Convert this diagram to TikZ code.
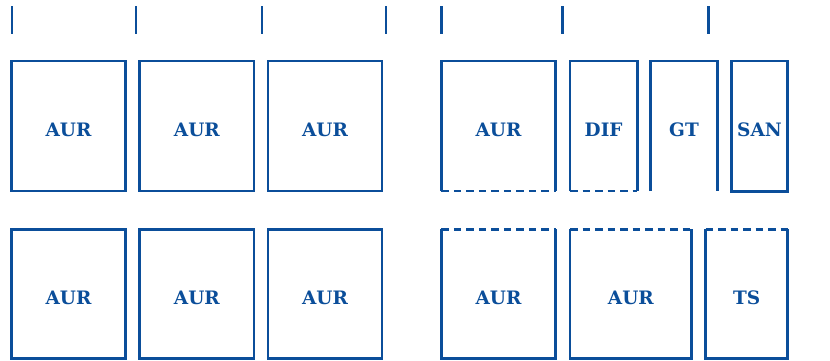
\documentclass[tikz,border=0pt]{standalone}
\usepackage{fontspec}
\setmainfont{DejaVu Serif}
\definecolor{myblue}{RGB}{11,78,154}
\tikzset{
  ln/.style={draw=myblue, line width=2.7pt},
  dsh/.style={ln, dash pattern=on 7.5pt off 5pt},
  boxnode/.style={rectangle, inner sep=0pt, outer sep=0pt, font=\bfseries\fontsize{18.5}{18.5}\selectfont, text=myblue, text height=21pt, text depth=0pt},
}
\begin{document}
\begin{tikzpicture}[x=1pt,y=-1pt]
\useasboundingbox (0,0) rectangle (830,360);
% ticks
\foreach \xx in {12,136,262,386,441.7,562.3,708.7}{
  \draw[ln] (\xx,6) -- (\xx,34);
}
% top row
\node[boxnode, ln, minimum width=114.4pt, minimum height=130pt] (t1) at (68.5,126) {AUR};
\node[boxnode, ln, minimum width=114.3pt, minimum height=130pt] (t2) at (196.85,126) {AUR};
\node[boxnode, ln, minimum width=114pt, minimum height=130pt] (t3) at (325,126) {AUR};
\node[boxnode, minimum width=114.4pt, minimum height=130pt] (t4) at (498.5,126) {AUR};
\node[boxnode, minimum width=67.3pt, minimum height=130pt] (t5) at (603.65,126) {DIF};
\node[boxnode, minimum width=66.6pt, minimum height=130pt] (t6) at (684,126) {GT};
\node[boxnode, ln, minimum width=55.6pt, minimum height=130.5pt] (t7) at (759.5,126.25) {SAN};
\draw[ln] (t4.south west) -- (t4.north west) -- (t4.north east) -- (t4.south east);
\draw[dsh] (t4.south west) -- (t4.south east);
\draw[ln] (t5.south west) -- (t5.north west) -- (t5.north east) -- (t5.south east);
\draw[dsh] (t5.south west) -- (t5.south east);
\draw[ln] (t6.south west) -- (t6.north west) -- (t6.north east) -- (t6.south east);
% bottom row
\node[boxnode, ln, minimum width=114.4pt, minimum height=129.2pt] (b1) at (68.5,293.9) {AUR};
\node[boxnode, ln, minimum width=114.3pt, minimum height=129.2pt] (b2) at (196.85,293.9) {AUR};
\node[boxnode, ln, minimum width=114pt, minimum height=129.2pt] (b3) at (325,293.9) {AUR};
\node[boxnode, minimum width=114.4pt, minimum height=129.2pt] (b4) at (498.5,293.9) {AUR};
\node[boxnode, minimum width=121.7pt, minimum height=129.2pt] (b5) at (630.85,293.9) {AUR};
\node[boxnode, minimum width=82pt, minimum height=129.2pt] (b6) at (746.7,293.9) {TS};
\draw[ln] (b4.north west) -- (b4.south west) -- (b4.south east) -- (b4.north east);
\draw[dsh] (b4.north west) -- (b4.north east);
\draw[ln] (b5.north west) -- (b5.south west) -- (b5.south east) -- (b5.north east);
\draw[dsh] (b5.north west) -- (b5.north east);
\draw[ln] (b6.north west) -- (b6.south west) -- (b6.south east) -- (b6.north east);
\coordinate (tsend) at ([xshift=3pt]b6.north east);
\draw[dsh] (b6.north west) -- (tsend);
\end{tikzpicture}
\end{document}
